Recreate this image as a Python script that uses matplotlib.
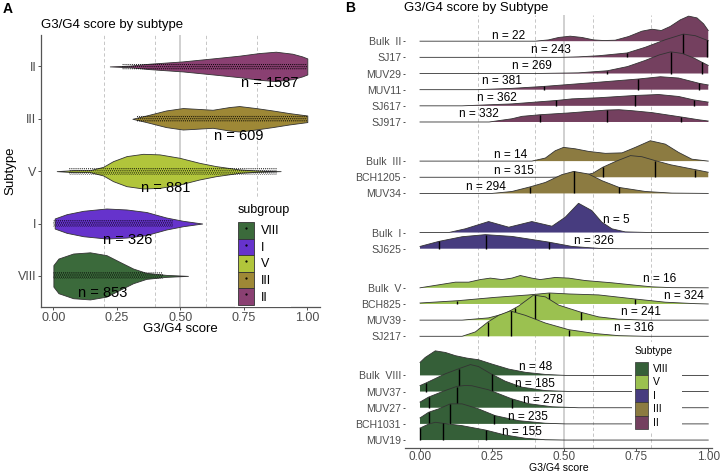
import numpy as np
import matplotlib
matplotlib.use("Agg")
import matplotlib.pyplot as plt
from matplotlib.patches import Patch, Rectangle
from matplotlib.lines import Line2D

plt.rcParams['font.family'] = ['Liberation Sans', 'DejaVu Sans']
plt.rcParams['hatch.linewidth'] = 0.5

# ---------------- panel A data (violins) ----------------
subtypes_a = ["VIII", "I", "V", "III", "II"]          # bottom to top
counts_a = [853, 326, 881, 609, 1587]
colors_a = ["#3b6a3b", "#6633cc", "#b1c53b", "#9e8836", "#8a4072"]
count_x_a = [0.193, 0.291, 0.441, 0.729, 0.852]       # where the "n = " labels sit

# violin half-width (in category units) read at given G3/G4 scores
viol_x = {
    "II":   [0.222, 0.30, 0.379, 0.51, 0.64, 0.732, 0.81, 0.876, 0.941, 0.98, 1.0],
    "III":  [0.311, 0.366, 0.444, 0.51, 0.562, 0.627, 0.693, 0.732, 0.797, 0.863, 0.928, 1.0],
    "V":    [0.013, 0.078, 0.144, 0.196, 0.235, 0.288, 0.353, 0.418, 0.497, 0.575, 0.64, 0.732, 0.797, 0.895],
    "I":    [0.005, 0.052, 0.118, 0.209, 0.288, 0.366, 0.444, 0.51, 0.586],
    "VIII": [0.0, 0.02, 0.078, 0.144, 0.209, 0.261, 0.314, 0.366, 0.444, 0.53],
}
viol_w = {
    "II":   [0.0, 0.015, 0.052, 0.096, 0.159, 0.205, 0.255, 0.281, 0.243, 0.191, 0.153],
    "III":  [0.0, 0.063, 0.159, 0.205, 0.191, 0.172, 0.224, 0.243, 0.205, 0.159, 0.109, 0.063],
    "V":    [0.0, 0.019, 0.019, 0.082, 0.191, 0.287, 0.331, 0.320, 0.255, 0.159, 0.096, 0.033, 0.013, 0.0],
    "I":    [0.096, 0.178, 0.243, 0.287, 0.268, 0.220, 0.115, 0.052, 0.0],
    "VIII": [0.205, 0.331, 0.427, 0.450, 0.396, 0.268, 0.140, 0.057, 0.019, 0.0],
}
# range covered by the jittered points
jitter_lo = {"II": 0.27, "III": 0.33, "V": 0.06, "I": 0.0, "VIII": 0.0}
jitter_hi = {"II": 1.0, "III": 1.0, "V": 0.88, "I": 0.47, "VIII": 0.43}

# ---------------- panel B data (ridgelines) ----------------
ridge_names = ["Bulk  II", "SJ17", "MUV29", "MUV11", "SJ617", "SJ917",
               "Bulk  III", "BCH1205", "MUV34",
               "Bulk  I", "SJ625",
               "Bulk  V", "BCH825", "MUV39", "SJ217",
               "Bulk  VIII", "MUV37", "MUV27", "BCH1031", "MUV19"]
ridge_group = ["II"] * 6 + ["III"] * 3 + ["I"] * 2 + ["V"] * 4 + ["VIII"] * 5
ridge_n = [22, 243, 269, 381, 362, 332, 14, 315, 294, 5, 326,
           16, 324, 241, 316, 48, 185, 278, 235, 155]
colors_b = {"VIII": "#355f38", "V": "#9bc150", "I": "#473c7f",
            "III": "#8c7b41", "II": "#74405f"}

# density heights (in row units) read at given scores
ridge_x = {
    "Bulk  II": [0, 0.40, 0.446, 0.481, 0.521, 0.562, 0.602, 0.637, 0.677, 0.724, 0.770,
                 0.805, 0.837, 0.868, 0.903, 0.932, 0.961, 0.984, 1.0],
    "SJ17": [0, 0.49, 0.55, 0.62, 0.718, 0.781, 0.851, 0.914, 0.955, 1.0],
    "MUV29": [0, 0.40, 0.55, 0.65, 0.72, 0.78, 0.83, 0.87, 0.91, 0.95, 0.98, 1.0],
    "MUV11": [0, 0.20, 0.319, 0.429, 0.597, 0.758, 0.834, 0.897, 0.969, 1.0],
    "SJ617": [0, 0.146, 0.319, 0.473, 0.527, 0.62, 0.745, 0.828, 0.897, 0.949, 1.0],
    "SJ917": [0, 0.24, 0.319, 0.354, 0.417, 0.516, 0.649, 0.69, 0.735, 0.805, 0.906, 0.966, 1.0],
    "Bulk  III": [0, 0.388, 0.435, 0.469, 0.498, 0.539, 0.585, 0.643, 0.701, 0.747, 0.799,
                  0.851, 0.897, 0.943, 0.99, 1.0],
    "BCH1205": [0, 0.45, 0.55, 0.60, 0.634, 0.68, 0.73, 0.77, 0.816, 0.87, 0.953, 1.0],
    "MUV34": [0, 0.25, 0.319, 0.383, 0.435, 0.492, 0.533, 0.585, 0.631, 0.691, 0.782, 0.874, 1.0],
    "Bulk  I": [0, 0.10, 0.157, 0.238, 0.308, 0.388, 0.458, 0.504, 0.55, 0.596, 0.631,
                0.666, 0.712, 0.80, 1.0],
    "SJ625": [0, 0.065, 0.146, 0.227, 0.319, 0.446, 0.527, 0.62, 0.689, 1.0],
    "Bulk  V": [0, 0.088, 0.123, 0.169, 0.209, 0.244, 0.284, 0.319, 0.348, 0.388, 0.417,
                0.469, 0.516, 0.573, 0.666, 0.758, 0.805, 0.874, 1.0],
    "BCH825": [0, 0.129, 0.261, 0.377, 0.449, 0.516, 0.62, 0.745, 0.851, 0.955, 1.0],
    "MUV39": [0, 0.146, 0.238, 0.296, 0.342, 0.394, 0.435, 0.481, 0.56, 0.62, 0.689, 0.782, 1.0],
    "SJ217": [0, 0.146, 0.192, 0.236, 0.273, 0.313, 0.365, 0.435, 0.516, 0.608, 0.689, 0.782, 1.0],
    "Bulk  VIII": [0, 0.018, 0.053, 0.088, 0.123, 0.163, 0.203, 0.25, 0.308, 0.366, 0.435, 0.504, 1.0],
    "MUV37": [0, 0.018, 0.088, 0.134, 0.175, 0.203, 0.246, 0.296, 0.354, 0.435, 0.527, 1.0],
    "MUV27": [0, 0.03, 0.088, 0.128, 0.157, 0.18, 0.238, 0.317, 0.377, 0.458, 0.55, 1.0],
    "BCH1031": [0, 0.03, 0.065, 0.105, 0.146, 0.203, 0.261, 0.342, 0.435, 0.504, 1.0],
    "MUV19": [0, 0.03, 0.053, 0.082, 0.146, 0.227, 0.296, 0.366, 0.435, 0.504, 1.0],
}
ridge_h = {
    "Bulk  II": [0, 0, 0.08, 0.23, 0.31, 0.23, 0.08, 0.04, 0.06, 0.29, 0.62,
                 0.74, 0.66, 0.91, 1.32, 1.55, 1.44, 1.07, 0.66],
    "SJ17": [0, 0, 0.03, 0.10, 0.27, 0.62, 1.09, 1.44, 1.34, 1.03],
    "MUV29": [0, 0, 0.04, 0.17, 0.43, 0.80, 1.15, 1.34, 1.24, 0.96, 0.68, 0.50],
    "MUV11": [0, 0, 0.08, 0.20, 0.43, 0.66, 0.80, 0.72, 0.39, 0.29],
    "SJ617": [0, 0, 0.12, 0.33, 0.43, 0.50, 0.64, 0.70, 0.58, 0.37, 0.23],
    "SJ917": [0, 0, 0.20, 0.35, 0.45, 0.56, 0.74, 0.76, 0.70, 0.58, 0.31, 0.14, 0.06],
    "Bulk  III": [0, 0, 0.19, 0.64, 0.85, 0.76, 0.60, 0.48, 0.51, 0.85, 1.26,
                  1.05, 0.54, 0.12, 0.02, 0],
    "BCH1205": [0, 0, 0.05, 0.25, 0.62, 0.99, 1.34, 1.27, 1.03, 0.77, 0.48, 0.31],
    "MUV34": [0, 0, 0.12, 0.41, 0.68, 1.16, 1.36, 1.20, 0.79, 0.37, 0.12, 0.02, 0],
    "Bulk  I": [0, 0, 0.23, 0.68, 0.33, 0.68, 0.39, 0.95, 1.81, 1.36, 0.64,
                0.23, 0.04, 0, 0],
    "SJ625": [0.14, 0.45, 0.74, 0.87, 0.76, 0.41, 0.14, 0.02, 0, 0],
    "Bulk  V": [0, 0.25, 0.35, 0.35, 0.51, 0.60, 0.51, 0.60, 0.76, 0.60, 0.51,
                0.64, 0.60, 0.45, 0.31, 0.14, 0.06, 0.01, 0],
    "BCH825": [0.06, 0.20, 0.41, 0.56, 0.68, 0.62, 0.56, 0.31, 0.11, 0.02, 0],
    "MUV39": [0, 0, 0.14, 0.41, 0.87, 1.55, 1.44, 0.93, 0.48, 0.20, 0.06, 0, 0],
    "SJ217": [0, 0, 0.27, 0.89, 1.30, 1.57, 1.30, 0.82, 0.41, 0.17, 0.04, 0, 0],
    "Bulk  VIII": [0.80, 1.11, 1.52, 1.42, 1.22, 1.07, 0.97, 0.70, 0.39, 0.19, 0.06, 0, 0],
    "MUV37": [0.37, 0.51, 1.10, 1.41, 1.67, 1.55, 1.10, 0.64, 0.27, 0.06, 0, 0],
    "MUV27": [0.35, 0.66, 1.07, 1.32, 1.38, 1.36, 1.11, 0.56, 0.25, 0.06, 0, 0],
    "BCH1031": [0.37, 0.72, 0.93, 1.24, 1.24, 0.93, 0.51, 0.20, 0.04, 0, 0],
    "MUV19": [0.74, 0.99, 1.10, 1.03, 0.89, 0.62, 0.31, 0.11, 0.02, 0, 0],
}
# quartile lines (bulk samples have none)
ridge_q = {
    "SJ17": [0.718, 0.914, 0.995], "MUV29": [0.65, 0.87, 0.979],
    "MUV11": [0.429, 0.757, 0.969], "SJ617": [0.473, 0.746, 0.950],
    "SJ917": [0.418, 0.650, 0.905], "BCH1205": [0.634, 0.816, 0.953],
    "MUV34": [0.383, 0.533, 0.691], "SJ625": [0.066, 0.228, 0.447],
    "BCH825": [0.129, 0.447, 0.746], "MUV39": [0.33, 0.40, 0.559],
    "SJ217": [0.235, 0.314, 0.517], "MUV37": [0.020, 0.136, 0.249],
    "MUV27": [0.032, 0.127, 0.318], "BCH1031": [0.032, 0.104, 0.258],
    "MUV19": [0.0, 0.079, 0.228],
}
# where the "n = " labels sit (score, height above baseline in rows)
label_x = [0.308, 0.454, 0.389, 0.283, 0.267, 0.206, 0.313, 0.327, 0.228, 0.68, 0.604,
           0.832, 0.915, 0.766, 0.743, 0.40, 0.398, 0.428, 0.373, 0.354]
label_dy = [0.31, 0.47, 0.48, 0.51, 0.50, 0.48, 0.40, 0.41, 0.37, 0.78, 0.46,
            0.56, 0.51, 0.51, 0.51, 0.54, 0.48, 0.50, 0.45, 0.47]

W, H = 724, 473
fig = plt.figure(figsize=(W / 100, H / 100), dpi=100)

def fx(px):
    return px / W

def fy(py):
    return 1 - py / H

tick_grey = "#4d4d4d"

# ======================= panel A =======================
axA = fig.add_axes([fx(40.7), fy(307.3), fx(320) - fx(40.7), fy(35) - fy(307.3)])
axA.set_xlim(-0.05, 1.05)
axA.set_ylim(0.4, 5.6)
for g in [0.2, 0.4, 0.6, 0.8]:
    axA.axvline(g, color="#bdbdbd", lw=0.6, ls=(0, (4, 3)), zorder=1)
axA.axvline(0.5, color="#c8c8c8", lw=1.2, zorder=1)

for i, s in enumerate(subtypes_a):
    yc = i + 1
    x = np.array(viol_x[s])
    w = np.array(viol_w[s])
    axA.fill_between(x, yc - w, yc + w, facecolor=colors_a[i], edgecolor="#333333",
                     lw=0.6, zorder=3)
    axA.fill_between([jitter_lo[s], jitter_hi[s]], yc - 0.065, yc + 0.065,
                     facecolor="none", edgecolor="black", hatch="........", lw=0, zorder=4)
    axA.text(count_x_a[i], yc - 0.32, "n = %d" % counts_a[i], fontsize=10.5,
             ha="center", va="center", zorder=6)

axA.set_yticks(range(1, 6))
axA.set_yticklabels(subtypes_a)
axA.set_xticks([0, 0.25, 0.5, 0.75, 1.0])
axA.set_xticklabels(["0.00", "0.25", "0.50", "0.75", "1.00"])
axA.tick_params(labelsize=9, labelcolor=tick_grey, length=2.2, width=0.6, color="#333333", pad=1)
for sp in ["top", "right"]:
    axA.spines[sp].set_visible(False)
for sp in ["left", "bottom"]:
    axA.spines[sp].set_color("#555555")
    axA.spines[sp].set_linewidth(0.9)
axA.set_xlabel("G3/G4 score", fontsize=9.5, va="center")
axA.xaxis.set_label_coords(0.5, -0.081)
axA.set_ylabel("Subtype", fontsize=9.5, va="center")
axA.yaxis.set_label_coords(-0.11, 0.5)

# legend A: white backing, title and keys
axA.add_patch(Rectangle((0.695, 0.0), 0.2, 0.4, transform=axA.transAxes,
                        facecolor="white", edgecolor="none", zorder=8))
leg_order = ["VIII", "I", "V", "III", "II"]
handles = []
for s in leg_order:
    c = colors_a[subtypes_a.index(s)]
    handles.append((Patch(facecolor=c, edgecolor="#333333", lw=0.6),
                    Line2D([], [], marker=".", ms=1.2, color="black", ls="")))
legA = axA.legend(handles, leg_order, loc="upper left",
                  bbox_to_anchor=(0.7064, 0.3133), fontsize=9,
                  handlelength=1.26, handleheight=1.66, labelspacing=0,
                  handletextpad=0.56, borderpad=0, borderaxespad=0, frameon=False)
legA.set_zorder(10)
fig.text(fx(238), fy(210), "subgroup", fontsize=9, va="center", ha="left", zorder=11)

fig.text(fx(40.7), fy(25), "G3/G4 score by subtype", fontsize=9.5, va="center", ha="left")
fig.text(fx(3), fy(9), "A", fontsize=10, fontweight="bold", va="center", ha="left")

# ======================= panel B =======================
axB = fig.add_axes([fx(405), fy(448.3), fx(712) - fx(405), fy(15) - fy(448.3)])
axB.set_xlim(-0.052, 1.013)

# baselines: one row per sample, extra gap between subtypes
group_gap = 2.42
row_y = []
y = 0.0
prev = None
for g in reversed(ridge_group):
    if prev is not None:
        y += 1.0 if g == prev else group_gap
    row_y.append(y)
    prev = g
row_y = row_y[::-1]
axB.set_ylim(-0.51, 26.3)

for g in [0.2, 0.4, 0.6, 0.8]:
    axB.axvline(g, color="#bdbdbd", lw=0.6, ls=(0, (4, 3)), zorder=1)
axB.axvline(0.5, color="#c8c8c8", lw=1.2, zorder=1)

for i, name in enumerate(ridge_names):
    y0 = row_y[i]
    x = np.array(ridge_x[name])
    h = np.array(ridge_h[name])
    col = colors_b[ridge_group[i]]
    z = 3 + i
    axB.fill_between(x, y0, y0 + h, facecolor=col, lw=0, zorder=z)
    axB.plot(x, y0 + h, color="#333333", lw=0.6, zorder=z + 0.3)
    for q in ridge_q.get(name, []):
        axB.plot([q, q], [y0, y0 + np.interp(q, x, h)], color="black", lw=1.0,
                 solid_capstyle="butt", zorder=z + 0.5)
    axB.text(label_x[i], y0 + label_dy[i], "n = %d" % ridge_n[i], fontsize=8.6,
             ha="center", va="center", zorder=50)

axB.set_yticks(row_y)
axB.set_yticklabels(ridge_names)
axB.set_xticks([0, 0.25, 0.5, 0.75, 1.0])
axB.set_xticklabels(["0.00", "0.25", "0.50", "0.75", "1.00"])
axB.tick_params(axis="y", labelsize=7.6, labelcolor=tick_grey, length=1.8, width=0.6,
                color="#333333", pad=1)
axB.tick_params(axis="x", labelsize=8.5, labelcolor=tick_grey, length=2, width=0.6,
                color="#333333", pad=0.3)
for sp in ["top", "right", "left"]:
    axB.spines[sp].set_visible(False)
axB.spines["bottom"].set_color("#555555")
axB.spines["bottom"].set_linewidth(0.9)
axB.set_xlabel("G3/G4 score", fontsize=7.6, va="center")
axB.xaxis.set_label_coords(0.5, -0.0445)

# legend B: white backing, title and keys
axB.add_patch(Rectangle((0.739, 0.037), 0.163, 0.208, transform=axB.transAxes,
                        facecolor="white", edgecolor="none", zorder=58))
leg_b = ["VIII", "V", "I", "III", "II"]
handlesB = [Patch(facecolor=colors_b[s], edgecolor="#333333", lw=0.5) for s in leg_b]
legB = axB.legend(handlesB, leg_b, loc="upper left",
                  bbox_to_anchor=(0.7502, 0.2), fontsize=7.5,
                  handlelength=1.21, handleheight=1.62, labelspacing=0,
                  handletextpad=0.48, borderpad=0, borderaxespad=0, frameon=False)
legB.set_zorder(60)
fig.text(fx(635), fy(350.7), "Subtype", fontsize=7.5, va="center", ha="left", zorder=61)

fig.text(fx(404.3), fy(7.5), "G3/G4 score by Subtype", fontsize=9.5, va="center", ha="left")
fig.text(fx(345), fy(8), "B", fontsize=10, fontweight="bold", va="center", ha="left")

fig.savefig("out.png", dpi=100)
